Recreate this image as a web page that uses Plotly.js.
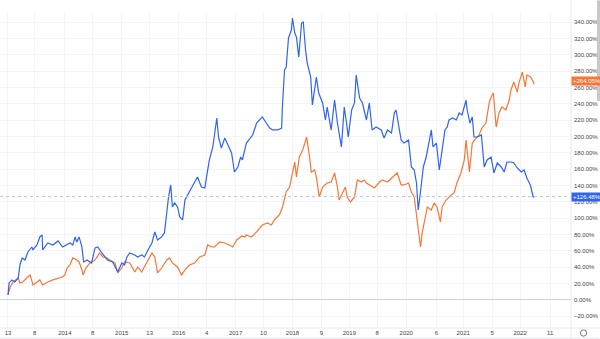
<!DOCTYPE html>
<html>
<head>
<meta charset="utf-8">
<script src="https://cdn.plot.ly/plotly-3.0.1.min.js"></script>
<style>
html,body{margin:0;padding:0;background:#fff;overflow:hidden;}
#chart{width:600px;height:339px;}
</style>
</head>
<body>
<div id="chart"></div>
<script>
// Decimal-year dates and percentage change values
const blueX = [2013.00,2013.02,2013.07,2013.12,2013.18,2013.21,2013.25,2013.30,2013.35,2013.42,2013.44,2013.51,2013.56,2013.60,2013.61,2013.65,2013.70,2013.79,2013.88,2013.96,
2014.04,2014.09,2014.14,2014.18,2014.21,2014.25,2014.30,2014.33,2014.39,2014.47,2014.53,2014.58,2014.65,2014.70,2014.75,2014.84,2014.93,
2015.00,2015.05,2015.09,2015.14,2015.23,2015.28,2015.35,2015.40,2015.46,2015.53,2015.58,2015.63,2015.70,2015.75,2015.79,2015.82,2015.86,2015.89,2015.93,2015.98,
2016.02,2016.07,2016.11,2016.16,2016.23,2016.28,2016.33,2016.40,2016.46,2016.49,2016.54,2016.60,2016.63,2016.67,2016.70,2016.75,2016.81,2016.86,2016.93,2016.98,
2017.04,2017.09,2017.12,2017.19,2017.25,2017.30,2017.37,2017.42,2017.47,2017.54,2017.60,2017.65,2017.74,2017.81,2017.82,2017.86,2017.89,2017.93,2017.98,
2018.00,2018.04,2018.07,2018.11,2018.16,2018.19,2018.23,2018.26,2018.32,2018.35,2018.42,2018.46,2018.53,2018.58,2018.61,2018.68,2018.74,2018.79,2018.86,2018.91,2018.95,2018.98,
2019.04,2019.09,2019.12,2019.18,2019.23,2019.30,2019.35,2019.40,2019.47,2019.56,2019.61,2019.67,2019.74,2019.79,2019.82,2019.86,2019.91,2019.96,
2020.04,2020.09,2020.14,2020.18,2020.21,2020.26,2020.30,2020.35,2020.40,2020.44,2020.47,2020.53,2020.58,2020.63,2020.68,2020.72,2020.75,2020.81,2020.88,2020.93,2020.98,
2021.05,2021.07,2021.12,2021.16,2021.19,2021.25,2021.32,2021.37,2021.42,2021.49,2021.54,2021.60,2021.67,2021.72,2021.77,2021.84,2021.89,2021.95,
2022.02,2022.07,2022.12,2022.18,2022.21,2022.23,2022.25];
const blueY = [6,20.8,24.5,22.0,26.9,42.8,51.4,48.9,58.7,64.8,61.2,67.3,77.1,79.5,61.2,64.8,69.7,67.3,72.2,64.8,
67.3,69.7,67.3,77.1,70.9,77.1,64.8,46.5,48.9,45.3,63.6,64.8,57.5,52.6,48.9,46.5,34.3,
45.3,42.8,52.6,57.5,55.0,52.6,55.0,52.6,61.2,69.7,83.2,73.4,77.1,82.0,106.4,124.8,140.7,113.8,118.7,113.8,
101.5,97.9,122.3,128.4,137.0,143.1,150.5,138.2,137.0,150.5,171.3,187.2,201.8,222.6,199.4,185.9,198.2,189.6,179.8,156.6,
162.7,174.9,171.3,192.0,198.2,201.8,216.5,220.2,223.9,216.5,210.4,208.0,208.0,210.4,232.4,281.3,285.0,320.5,330.3,
345.0,326.6,321.7,297.2,338.8,340.1,305.8,289.9,272.8,238.5,272.8,253.2,241.0,220.2,236.1,208.0,244.6,216.5,187.2,236.1,216.5,199.4,
232.4,241.0,275.2,247.1,241.0,220.2,241.0,208.0,211.6,208.0,198.2,208.0,204.3,228.8,232.4,216.5,195.7,192.0,
195.7,162.7,159.0,143.1,110.1,138.2,162.7,174.9,192.0,208.0,187.2,192.0,159.0,187.2,208.0,211.6,220.2,222.6,220.2,228.8,226.3,
244.6,232.4,216.5,223.9,199.4,199.4,201.8,162.7,171.3,174.9,155.4,167.6,162.7,156.6,168.8,168.8,167.6,161.5,
156.6,159.0,149.2,140.7,132.1,126.0,126.48];

const orangeX = [2013.00,2013.04,2013.09,2013.18,2013.21,2013.26,2013.33,2013.39,2013.44,2013.51,2013.56,2013.61,2013.70,2013.79,2013.91,2013.96,
2014.00,2014.04,2014.09,2014.14,2014.21,2014.25,2014.30,2014.32,2014.37,2014.44,2014.53,2014.61,2014.67,2014.74,2014.79,2014.88,2014.93,
2015.00,2015.05,2015.14,2015.23,2015.28,2015.35,2015.44,2015.53,2015.58,2015.63,2015.70,2015.79,2015.84,2015.89,2015.98,
2016.05,2016.11,2016.19,2016.28,2016.37,2016.46,2016.51,2016.58,2016.63,2016.72,2016.81,2016.89,2016.95,
2017.02,2017.11,2017.16,2017.19,2017.28,2017.37,2017.47,2017.56,2017.63,2017.68,2017.77,2017.82,2017.89,2017.95,
2018.00,2018.04,2018.07,2018.12,2018.18,2018.25,2018.30,2018.33,2018.39,2018.42,2018.47,2018.53,2018.61,2018.68,2018.74,2018.79,2018.82,2018.88,2018.93,2018.96,
2019.02,2019.09,2019.14,2019.21,2019.26,2019.30,2019.35,2019.44,2019.53,2019.58,2019.67,2019.75,2019.84,2019.91,2019.96,
2020.04,2020.09,2020.14,2020.18,2020.21,2020.25,2020.28,2020.32,2020.37,2020.44,2020.49,2020.54,2020.60,2020.63,2020.70,2020.79,2020.84,2020.89,2020.96,
2021.02,2021.05,2021.11,2021.16,2021.23,2021.28,2021.33,2021.40,2021.46,2021.49,2021.53,2021.58,2021.63,2021.68,2021.75,2021.81,2021.84,2021.89,2021.95,2021.98,
2022.04,2022.09,2022.12,2022.19,2022.25];
const orangeY = [6.1,15.9,22.0,26.9,20.8,22.0,26.9,30.6,18.3,22.0,24.5,18.3,22.0,24.5,26.9,28.1,
30.6,39.1,42.8,51.4,48.9,46.5,36.7,30.6,39.1,45.3,48.9,57.5,52.6,51.4,48.9,45.3,33.0,
39.1,46.5,45.3,34.3,40.4,34.3,46.5,57.5,52.6,33.0,39.1,48.9,51.4,45.3,40.4,
30.6,36.7,42.8,45.3,52.6,55.0,67.3,64.8,64.8,70.9,69.7,67.3,64.8,
73.4,78.3,77.1,79.5,77.1,83.2,91.7,94.2,91.7,97.9,104.0,112.5,132.1,138.2,
155.4,168.8,150.5,174.9,183.5,199.4,174.9,156.6,159.0,150.5,126.0,138.2,143.1,144.3,155.4,138.2,122.3,130.9,138.2,126.0,
119.9,126.0,146.8,144.3,146.8,143.1,140.7,137.0,144.3,146.8,144.3,149.2,155.4,140.7,140.7,
143.1,132.1,126.0,101.5,82.0,64.8,82.0,97.9,113.8,110.1,118.7,113.8,95.4,113.8,122.3,128.4,130.9,143.1,155.4,
171.3,195.7,156.6,192.0,198.2,201.8,210.4,216.5,242.2,248.3,253.2,211.6,228.8,236.1,232.4,244.6,256.9,266.7,254.4,265.4,
278.9,260.6,275.2,272.8,264.05];

const xTickVals = [2013,2013.47,2014,2014.49,2015,2015.49,2016,2016.49,2017,2017.49,2018,2018.51,2019,2019.49,2020,2020.53,2021,2021.51,2022,2022.53];
const xTickText = ["13","8","2014","8","2015","13","2016","4","2017","10","2018","9","2019","8","2020","6","2021","5","2022","11"];

const blueColor = "#2f63f2";
const orangeColor = "#fa7535";
const blueLast = blueY[blueY.length-1];
const orangeLast = orangeY[orangeY.length-1];
const fmt = v => "+" + v.toFixed(2) + "%";

const traces = [
  {x: orangeX, y: orangeY, type: "scatter", mode: "lines", line: {color: orangeColor, width: 1.2}, hoverinfo: "skip"},
  {x: blueX, y: blueY, type: "scatter", mode: "lines", line: {color: blueColor, width: 1.2}, hoverinfo: "skip"}
];

const tickFont = {family: "Liberation Sans, Arial, sans-serif", size: 6, color: "#444"};

const layout = {
  width: 600, height: 339,
  margin: {l: 0, r: 29, t: 13, b: 11, pad: 0},
  paper_bgcolor: "#fff", plot_bgcolor: "#fff",
  showlegend: false,
  xaxis: {
    type: "linear", range: [2012.86, 2022.895],
    tickvals: xTickVals, ticktext: xTickText,
    showgrid: true, gridcolor: "#f2f4f8", gridwidth: 1,
    zeroline: false, showline: false, ticks: "",
    tickfont: tickFont, ticklabelstandoff: 0
  },
  yaxis: {
    side: "right", range: [-34.3, 351.1], dtick: 20, tick0: 0,
    tickformat: ".2f", ticksuffix: "%",
    showgrid: true, gridcolor: "#f2f4f8", gridwidth: 1,
    zeroline: true, zerolinecolor: "#cfd2d8", zerolinewidth: 1,
    showline: false, ticks: "", tickfont: tickFont, ticklabelstandoff: 2
  },
  shapes: [
    {type: "line", xref: "paper", yref: "y", x0: 0, x1: 1, y0: blueLast, y1: blueLast,
     line: {color: "#b3c6f9", width: 1, dash: "dot"}},
    {type: "line", xref: "paper", yref: "paper", x0: 1, x1: 1, y0: -0.035, y1: 1.04,
     line: {color: "#e6e8ee", width: 1}},
    {type: "line", xref: "paper", yref: "paper", x0: 0, x1: 1.05, y0: 0, y1: 0,
     line: {color: "#e6e8ee", width: 1}},
    {type: "line", xref: "paper", yref: "paper", x0: 0, x1: 1.05, y0: -0.032, y1: -0.032,
     line: {color: "#e6e8ee", width: 1}},
    {type: "circle", xref: "paper", yref: "paper", x0: 1.0165, x1: 1.0275, y0: -0.026, y1: -0.006,
     line: {color: "#777", width: 1}},
    {type: "rect", xref: "paper", yref: "paper", x0: 1.0455, x1: 1.051, y0: 0.72, y1: 1.04,
     fillcolor: "#c8c8c8", line: {width: 0}}
  ],
  annotations: [
    {xref: "paper", yref: "y", x: 1, y: orangeLast, xanchor: "left", yanchor: "middle", yshift: 3,
     text: fmt(orangeLast), showarrow: false, bgcolor: orangeColor,
     font: {family: "Liberation Sans, Arial, sans-serif", size: 6, color: "#fff"}, borderpad: 1},
    {xref: "paper", yref: "y", x: 1, y: blueLast, xanchor: "left", yanchor: "middle",
     text: fmt(blueLast), showarrow: false, bgcolor: blueColor,
     font: {family: "Liberation Sans, Arial, sans-serif", size: 6, color: "#fff"}, borderpad: 1}
  ]
};

Plotly.newPlot("chart", traces, layout, {displayModeBar: false, staticPlot: true});
</script>
</body>
</html>
